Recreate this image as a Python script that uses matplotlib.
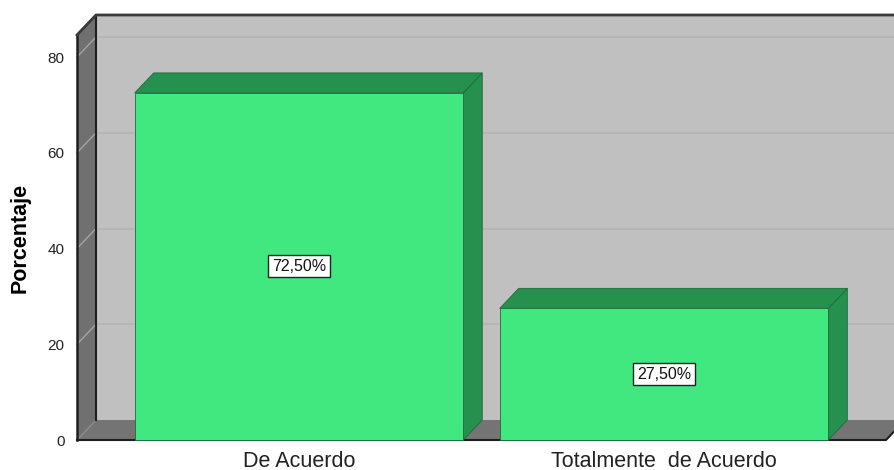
import matplotlib

matplotlib.use("Agg")
import matplotlib.pyplot as plt
from matplotlib.patches import Polygon, Rectangle

plt.rcParams["font.family"] = ["Liberation Sans", "DejaVu Sans"]

# data
categories = ["De Acuerdo", "Totalmente  de Acuerdo"]
percentages = [72.5, 27.5]
value_labels = ["72,50%", "27,50%"]
y_ticks = [0, 20, 40, 60, 80]

FIG_W, FIG_H = 894, 470
X0, X1 = -0.608, 1.608
Y_MAX = 84.6
BAR_W = 0.9

fig = plt.figure(figsize=(FIG_W / 100, FIG_H / 100), dpi=100)
ax = fig.add_axes([77 / FIG_W, 30 / FIG_H, (886 - 77) / FIG_W, 405 / FIG_H])
ax.set_xlim(X0, X1)
ax.set_ylim(0, Y_MAX)
ax.set_facecolor("none")
for sp in ax.spines.values():
    sp.set_visible(False)

# depth offset (pixels -> data units)
px_x = (886 - 77) / (X1 - X0)
px_y = 405 / Y_MAX
DX = 19 / px_x
DY = 20 / px_y

wall = "#c0c0c0"
side = "#707070"
floor = "#747474"
edge = "#1e1e1e"

# back wall
ax.add_patch(Rectangle((X0 + DX, DY), (X1 - X0) + 1, Y_MAX, facecolor=wall,
                       edgecolor="none", clip_on=False, zorder=0))
for t in y_ticks[1:]:
    ax.plot([X0 + DX, X1 + 1], [t + DY, t + DY], color="#b3b3b3", lw=1.2,
            clip_on=False, zorder=1)
    ax.plot([X0, X0 + DX], [t, t + DY], color="#a4a4a4", lw=1.0,
            clip_on=False, zorder=3)

# left wall
ax.add_patch(Polygon([(X0, 0), (X0 + DX, DY), (X0 + DX, Y_MAX + DY), (X0, Y_MAX)],
                     closed=True, facecolor=side, edgecolor="none",
                     clip_on=False, zorder=2))
# floor
ax.add_patch(Polygon([(X0, 0), (X1, 0), (X1 + DX, DY), (X0 + DX, DY)],
                     closed=True, facecolor=floor, edgecolor="none",
                     clip_on=False, zorder=2))
ax.plot([X0, X0 + DX], [0, DY], color="#8c8c8c", lw=1.0, clip_on=False, zorder=3)

# frame edges
ax.plot([X0, X0], [0, Y_MAX], color=edge, lw=1.8, clip_on=False, zorder=4)
ax.plot([X0 + DX, X0 + DX], [DY, Y_MAX + DY], color=edge, lw=1.5, clip_on=False, zorder=4)
ax.plot([X0, X0 + DX, X1 + 1], [Y_MAX, Y_MAX + DY, Y_MAX + DY], color="#3a3a3a",
        lw=2.0, clip_on=False, zorder=4)
ax.plot([X0, X1, X1 + DX], [0, 0, DY], color=edge, lw=1.5, clip_on=False, zorder=4)

# bars
front_c = "#41e880"
dark_c = "#26904f"
bar_edge = "#1d6b3a"
for i, (v, lab) in enumerate(zip(percentages, value_labels)):
    l, r = i - BAR_W / 2, i + BAR_W / 2
    ax.add_patch(Polygon([(r, 0), (r + DX, DY), (r + DX, v + DY), (r, v)], closed=True,
                         facecolor=dark_c, edgecolor=bar_edge, lw=0.6,
                         clip_on=False, zorder=5))
    ax.add_patch(Polygon([(l, v), (l + DX, v + DY), (r + DX, v + DY), (r, v)], closed=True,
                         facecolor=dark_c, edgecolor=bar_edge, lw=0.6,
                         clip_on=False, zorder=5))
    ax.add_patch(Rectangle((l, 0), BAR_W, v, facecolor=front_c, edgecolor=bar_edge,
                           lw=0.6, clip_on=False, zorder=6))
    ax.text(i, v / 2, lab, ha="center", va="center", fontsize=11.5, color="#111",
            zorder=7, bbox=dict(boxstyle="square,pad=0.22", facecolor="white",
                                edgecolor="#222", lw=1.0))

ax.set_yticks(y_ticks)
ax.set_yticklabels([str(t) for t in y_ticks], fontsize=11, color="#222")
ax.set_xticks(range(len(categories)))
ax.set_xticklabels(categories, fontsize=15.5, color="#222")
ax.tick_params(axis="y", length=0, pad=9)
ax.tick_params(axis="x", length=0, pad=8)
ax.set_ylabel("Porcentaje", fontsize=15.5, fontweight="bold")
ax.yaxis.set_label_coords((31 - 77) / (886 - 77), (440 - 238) / 405)

fig.savefig("out.png", dpi=100)
